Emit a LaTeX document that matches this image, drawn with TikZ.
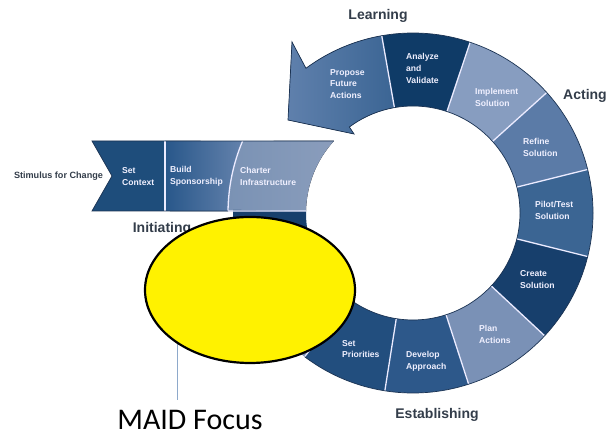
\documentclass[tikz,border=0pt]{standalone}
\usepackage{fontspec}
\setmainfont{Liberation Sans}
\newfontfamily\calibrifont{Carlito}
\usetikzlibrary{calc,shapes.geometric}

\definecolor{setctxBlue}{HTML}{1E4D7B}
\definecolor{buildL}{HTML}{28578A}
\definecolor{buildR}{HTML}{6482AC}
\definecolor{charterL}{HTML}{7A92B4}
\definecolor{charterR}{HTML}{8A9DBC}
\definecolor{hiddenDark}{HTML}{173F6C}
\definecolor{hiddenLight}{HTML}{7A8FB2}
\definecolor{setprioBlue}{HTML}{224E7E}
\definecolor{developBlue}{HTML}{2D588A}
\definecolor{planBlue}{HTML}{7A91B6}
\definecolor{createBlue}{HTML}{173F6C}
\definecolor{pilotBlue}{HTML}{3B6593}
\definecolor{refineBlue}{HTML}{5B7BA7}
\definecolor{implementBlue}{HTML}{879DC0}
\definecolor{analyzeBlue}{HTML}{0F3B67}
\definecolor{proposeL}{HTML}{5F80AC}
\definecolor{proposeR}{HTML}{3B6594}
\definecolor{rimNavy}{HTML}{1B3353}
\definecolor{phaseGrey}{HTML}{333D4A}
\definecolor{lineBlue}{HTML}{8EA9CB}

\def\ringseg[#1](#2:#3){\fill[#1] ($(c)+(#2:180pt)$) arc (#2:#3:180pt) -- ($(c)+(#3:107pt)$) arc (#3:#2:107pt) -- cycle;}

\tikzset{
	segtext/.style={text=white!94!blue, font=\bfseries\fontsize{8.6}{11.8}\selectfont, align=left, anchor=west, inner sep=0pt},
	phase/.style={text=phaseGrey, font=\bfseries\fontsize{14}{16}\selectfont, inner sep=0pt},
	sepline/.style={draw=white!92!blue, line width=1.3pt},
	rim/.style={draw=rimNavy, line width=0.7pt},
	focusblob/.style={ellipse, draw=black, line width=2.2pt, fill=yellow, minimum width=210pt, minimum height=146pt, inner sep=0pt},
	focusline/.style={draw=lineBlue, line width=1pt}
}

\begin{document}
\begin{tikzpicture}[x=1pt,y=1pt]
		%%%%% START %%%%%
		\useasboundingbox (0,0) rectangle (609,438);
		\coordinate (c) at (413,225);
		
		% initiating band
		\fill[setctxBlue] (92,297) -- (165,297) -- (165,227) -- (92,227) -- (112,262) -- cycle;
		\fill[left color=buildL, right color=buildR] (165,297) -- ($(c)+(157.1:185pt)$) arc (157.1:179.4:185pt) -- (165,227) -- cycle;
		\fill[left color=charterL, right color=charterR] ($(c)+(157.1:185pt)$) -- ($(c)+(137.7:107pt)$) arc (137.7:178.9:107pt) -- ($(c)+(179.4:185pt)$) arc (179.4:157.1:185pt) -- cycle;
		
		% the ring
		\ringseg[hiddenDark](179:206)
		\ringseg[hiddenLight](206:233)
		\ringseg[setprioBlue](233:261)
		\ringseg[developBlue](261:288)
		\ringseg[planBlue](288:317)
		\ringseg[createBlue](317:346)
		\ringseg[pilotBlue](346:374)
		\ringseg[refineBlue](14:42)
		\ringseg[implementBlue](42:71.5)
		\ringseg[analyzeBlue](71.5:100)
		\fill[left color=proposeL, right color=proposeR] ($(c)+(100:180pt)$) arc (100:126.5:180pt) -- (292,396) -- (288,318) -- (354,304) -- ($(c)+(126.5:107pt)$) arc (126.5:100:107pt) -- cycle;
		
		% white cuts
		\foreach \a in {206,233,261,288,317,346,14,42,71.5,100}
			\draw[sepline] ($(c)+(\a:107pt)$) -- ($(c)+(\a:180pt)$);
		\draw[sepline] (165,297) -- (165,227);
		\draw[sepline] ($(c)+(157.1:185pt)$) arc (157.1:179.4:185pt);
		\draw[sepline] (228,227) -- ($(c)+(178.9:107pt)$);
		
		% outlines
		\draw[rim] ($(c)+(233:180pt)$) arc (233:486.5:180pt) -- (292,396) -- (288,318) -- (354,304) -- ($(c)+(126.5:107pt)$) arc (126.5:-127:107pt);
		\draw[rim] ($(c)+(137.7:107pt)$) -- (92,297) -- (112,262) -- (92,227) -- (228,227);
		
		\node[segtext] (setctx) at (122,261.5) {Set\\Context};
		\node[segtext] (buildsp) at (170,261.5) {Build\\Sponsorship};
		\node[segtext] (charter) at (240,261.5) {Charter\\Infrastructure};
		\node[segtext] (propose) at (330,354) {Propose\\Future\\Actions};
		\node[segtext] (analyze) at (406,369.5) {Analyze\\and\\Validate};
		\node[segtext] (implement) at (475,340.5) {Implement\\Solution};
		\node[segtext] (refine) at (523,290.5) {Refine\\Solution};
		\node[segtext] (pilot) at (535,227.5) {Pilot/Test\\Solution};
		\node[segtext] (create) at (520,158.5) {Create\\Solution};
		\node[segtext] (plan) at (479,103.5) {Plan\\Actions};
		\node[segtext] (develop) at (406,76.5) {Develop\\Approach};
		\node[segtext] (setprio) at (342,89) {Set\\Priorities};
		
		\node[phase] (lbLearning) at (378,422) {Learning};
		\node[phase] (lbActing) at (585,342) {Acting};
		\node[phase] (lbInitiating) at (162,209.5) {Initiating};
		\node[phase] (lbEstablishing) at (437,23.5) {Establishing};
		\node[text=phaseGrey, font=\bfseries\fontsize{9.1}{11}\selectfont, inner sep=0pt] (stimulus) at (58.5,262) {Stimulus for Change};
		
		% maid focus
		\node[font=\calibrifont\fontsize{30}{36}\selectfont, inner sep=0pt, anchor=base] (maid) at (190,8) {MAID Focus};
		\coordinate (focustop) at (177,110);
		\draw[focusline] (focustop) -- ([yshift=10.7pt]maid.north -| focustop);
		\node[focusblob] (blob) at (250,148) {};
		
		%%%%% END %%%%%
	\end{tikzpicture}
\end{document}
